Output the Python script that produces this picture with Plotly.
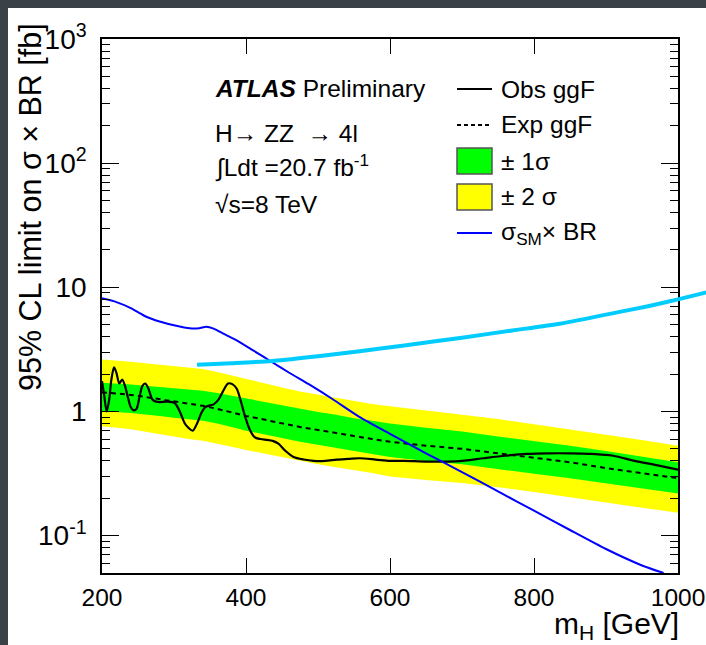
import plotly.graph_objects as go
import math

# ---------------- data ----------------
m_band = [200, 220, 240, 260, 280, 300, 320, 340, 360, 380, 400, 425, 450, 475, 500, 525, 550, 575, 600,
          650, 700, 750, 800, 850, 900, 950, 1000]
exp_lim = [1.43, 1.40, 1.36, 1.31, 1.26, 1.20, 1.16, 1.11, 1.05, 0.98, 0.92, 0.86, 0.80, 0.75, 0.71, 0.67,
           0.63, 0.60, 0.57, 0.53, 0.50, 0.46, 0.42, 0.39, 0.35, 0.32, 0.29]
g_lo = [1.00, 0.99, 0.97, 0.95, 0.92, 0.89, 0.87, 0.84, 0.80, 0.75, 0.70, 0.65, 0.61, 0.57, 0.54, 0.51,
        0.48, 0.455, 0.43, 0.40, 0.375, 0.345, 0.315, 0.29, 0.265, 0.24, 0.218]
g_hi = [1.70, 1.68, 1.65, 1.61, 1.57, 1.53, 1.50, 1.47, 1.41, 1.34, 1.27, 1.19, 1.11, 1.05, 0.99, 0.94,
        0.88, 0.84, 0.80, 0.74, 0.69, 0.63, 0.58, 0.53, 0.48, 0.43, 0.39]
y_lo = [0.76, 0.74, 0.72, 0.69, 0.66, 0.63, 0.60, 0.58, 0.55, 0.52, 0.49, 0.46, 0.43, 0.40, 0.375, 0.355,
        0.335, 0.32, 0.30, 0.28, 0.265, 0.245, 0.225, 0.205, 0.185, 0.168, 0.153]
y_hi = [2.62, 2.58, 2.52, 2.45, 2.38, 2.32, 2.26, 2.20, 2.08, 1.95, 1.82, 1.68, 1.56, 1.45, 1.37, 1.29,
        1.21, 1.15, 1.10, 1.02, 0.95, 0.87, 0.79, 0.72, 0.65, 0.59, 0.53]

m_obs = [200, 203, 206.5, 210, 213, 216.7, 220, 224, 228, 232, 236, 240, 244, 248, 252, 256, 260, 264,
         270, 275, 280, 290, 301, 308, 315, 320, 326, 332, 338, 343, 350, 355, 362, 368, 375, 381, 387,
         393, 399, 405, 412, 420, 429, 437, 445, 455, 466, 480, 494, 510, 526, 542, 558, 580, 600, 620,
         650, 680, 700, 730, 760, 790, 820, 850, 880, 910, 940, 970, 1000]
obs_lim = [1.75, 1.35, 1.00, 1.25, 1.80, 2.27, 2.05, 1.68, 1.81, 1.60, 1.30, 1.08, 1.02, 1.05, 1.30, 1.60,
           1.68, 1.55, 1.25, 1.20, 1.19, 1.20, 1.17, 1.00, 0.80, 0.74, 0.70, 0.80, 0.97, 1.08, 1.12, 1.14,
           1.25, 1.45, 1.68, 1.66, 1.53, 1.20, 0.90, 0.72, 0.62, 0.60, 0.59, 0.58, 0.55, 0.48, 0.43, 0.41,
           0.40, 0.40, 0.41, 0.415, 0.42, 0.41, 0.40, 0.40, 0.395, 0.395, 0.40, 0.42, 0.44, 0.455, 0.46,
           0.46, 0.455, 0.44, 0.40, 0.37, 0.34]

m_sm = [200, 220, 240, 253, 260, 280, 300, 322, 335, 345, 355, 370, 387, 410, 437, 460, 490, 520, 558,
        600, 650, 700, 750, 800, 850, 900, 950, 980]
sm_xsbr = [8.15, 7.6, 6.8, 6.17, 5.85, 5.3, 4.95, 4.67, 4.68, 4.82, 4.65, 4.2, 3.74, 3.1, 2.48, 2.05,
           1.62, 1.26, 0.90, 0.66, 0.46, 0.325, 0.227, 0.159, 0.111, 0.078, 0.0575, 0.05]

m_cyan = [332, 380, 437, 500, 558, 620, 700, 770, 836, 900, 960, 1000, 1040]
cyan_val = [2.38, 2.45, 2.55, 2.78, 3.06, 3.40, 3.93, 4.49, 5.09, 6.03, 7.08, 8.0, 9.12]

x_ticks = [200, 400, 600, 800, 1000]
y_ticks = [0.1, 1, 10, 100, 1000]
y_ticktext = ["10<sup>-1</sup>", "1", "10", "10<sup>2</sup>", "10<sup>3</sup>"]
y_minor = [v * d for d in (0.01, 0.1, 1, 10, 100) for v in range(2, 10)]

# ---------------- geometry ----------------
W, H = 706, 645
L, T, B = 102, 39, 72
PW = W - L            # plot area incl. overflow to the right edge
PH = H - T - B
FRAME_R = 678
XMIN, XMAX = 200, 1000
PXPERGEV = (FRAME_R - L) / (XMAX - XMIN)


def px(x):
    return (x - L) / PW


def py(y):
    return (H - B - y) / PH


FONT = "Liberation Sans, Arial, sans-serif"

fig = go.Figure()

# +-2 sigma band
fig.add_trace(go.Scatter(x=m_band + m_band[::-1], y=y_hi + y_lo[::-1], fill="toself",
                         fillcolor="#ffff00", line=dict(width=0), mode="lines", hoverinfo="skip",
                         showlegend=False))
# +-1 sigma band
fig.add_trace(go.Scatter(x=m_band + m_band[::-1], y=g_hi + g_lo[::-1], fill="toself",
                         fillcolor="#00ff00", line=dict(width=0), mode="lines", hoverinfo="skip",
                         showlegend=False))
# expected
fig.add_trace(go.Scatter(x=m_band, y=exp_lim, mode="lines",
                         line=dict(color="black", width=2, dash="5px,4px"), showlegend=False))
# observed
fig.add_trace(go.Scatter(x=m_obs, y=obs_lim, mode="lines",
                         line=dict(color="black", width=2.2, shape="spline", smoothing=0.8),
                         showlegend=False))
# SM
fig.add_trace(go.Scatter(x=m_sm, y=sm_xsbr, mode="lines",
                         line=dict(color="#0000ff", width=2, shape="spline", smoothing=0.6),
                         showlegend=False))
# cyan curve (drawn on an extended subplot so it runs past the frame)
fig.add_trace(go.Scatter(x=m_cyan, y=cyan_val, mode="lines", xaxis="x2", yaxis="y2",
                         line=dict(color="#00ccff", width=4, shape="spline", smoothing=0.6),
                         showlegend=False))

yr = [math.log10(0.05), 3]
fig.update_layout(
    width=W, height=H,
    margin=dict(l=L, r=0, t=T, b=B, autoexpand=False),
    paper_bgcolor="#3b4247",
    plot_bgcolor="rgba(0,0,0,0)",
    font=dict(family=FONT, color="black"),
    showlegend=False,
    xaxis=dict(domain=[0, (FRAME_R - L) / PW], range=[XMIN, XMAX], tickvals=x_ticks,
               ticks="inside", ticklen=15, tickwidth=1.3, tickcolor="black",
               showline=True, linecolor="black", linewidth=1.5, mirror="allticks",
               showgrid=False, zeroline=False, tickfont=dict(size=24.5, family=FONT),
               ticklabelstandoff=2, ticklabeloverflow="allow", anchor="y", automargin=False),
    yaxis=dict(domain=[0, 1], type="log", range=yr, tickvals=y_ticks, ticktext=y_ticktext,
               ticks="inside", ticklen=17, tickwidth=1.3, tickcolor="black",
               minor=dict(tickvals=y_minor, ticks="inside", ticklen=8, tickwidth=1.3,
                          tickcolor="black", showgrid=False),
               showline=True, linecolor="black", linewidth=1.5, mirror="allticks",
               showgrid=False, zeroline=False, tickfont=dict(size=28, family=FONT),
               ticklabelstandoff=8, ticklabeloverflow="allow", anchor="x", automargin=False),
    xaxis2=dict(domain=[0, 1], range=[XMIN, XMIN + PW / PXPERGEV], visible=False, anchor="y2",
                automargin=False),
    yaxis2=dict(domain=[0, 1], type="log", range=yr, visible=False, anchor="x2", automargin=False),
)

shapes = [
    # white page with dark frame strip at top/left
    dict(type="rect", xref="paper", yref="paper", x0=px(8), x1=px(W + 5), y0=py(8), y1=py(H + 5),
         fillcolor="white", line=dict(width=0), layer="below"),
    # legend markers
    dict(type="line", xref="paper", yref="paper", x0=px(457), x1=px(492), y0=py(89), y1=py(89),
         line=dict(color="black", width=2)),
    dict(type="line", xref="paper", yref="paper", x0=px(457), x1=px(492), y0=py(125), y1=py(125),
         line=dict(color="black", width=2, dash="4px,3px")),
    dict(type="rect", xref="paper", yref="paper", x0=px(457), x1=px(492), y0=py(148), y1=py(174),
         fillcolor="#00ff00", line=dict(color="#555555", width=1.5)),
    dict(type="rect", xref="paper", yref="paper", x0=px(457), x1=px(492), y0=py(184), y1=py(210),
         fillcolor="#ffff00", line=dict(color="#555555", width=1.5)),
    dict(type="line", xref="paper", yref="paper", x0=px(457), x1=px(492), y0=py(233), y1=py(233),
         line=dict(color="#0000ff", width=2)),
]
fig.update_layout(shapes=shapes)

ann_font = dict(family=FONT, size=24.5, color="black")
annotations = [
    dict(text="<b><i>ATLAS</i></b> Preliminary", x=px(213), y=py(88)),
    dict(text="H\u2192 ZZ \u00a0\u2192 4l", x=px(213), y=py(133)),
    dict(text="\u222bLdt =20.7 fb<sup>-1</sup>", x=px(213), y=py(166)),
    dict(text="\u221as=8 TeV", x=px(213), y=py(204)),
    dict(text="Obs ggF", x=px(499), y=py(89)),
    dict(text="Exp ggF", x=px(499), y=py(125)),
    dict(text="\u00b1 1\u03c3", x=px(499), y=py(161)),
    dict(text="\u00b1 2 \u03c3", x=px(499), y=py(197)),
    dict(text="\u03c3<sub>SM</sub>\u00d7 BR", x=px(499), y=py(233)),
]
for a in annotations:
    a.update(xref="paper", yref="paper", xanchor="left", yanchor="middle", showarrow=False,
             font=ann_font)

annotations.append(dict(text="95% CL limit on \u03c3 \u00d7 BR [fb]", textangle=-90, xref="paper",
                        yref="paper", x=px(31), y=py(21), xanchor="center", yanchor="top",
                        showarrow=False, font=dict(family=FONT, size=30.5, color="black")))
annotations.append(dict(text="m<sub>H</sub> [GeV]", xref="paper", yref="paper", x=px(681),
                        y=py(625), xanchor="right", yanchor="middle", showarrow=False,
                        font=dict(family=FONT, size=30, color="black")))
fig.update_layout(annotations=annotations)

fig.write_html("out.html")
